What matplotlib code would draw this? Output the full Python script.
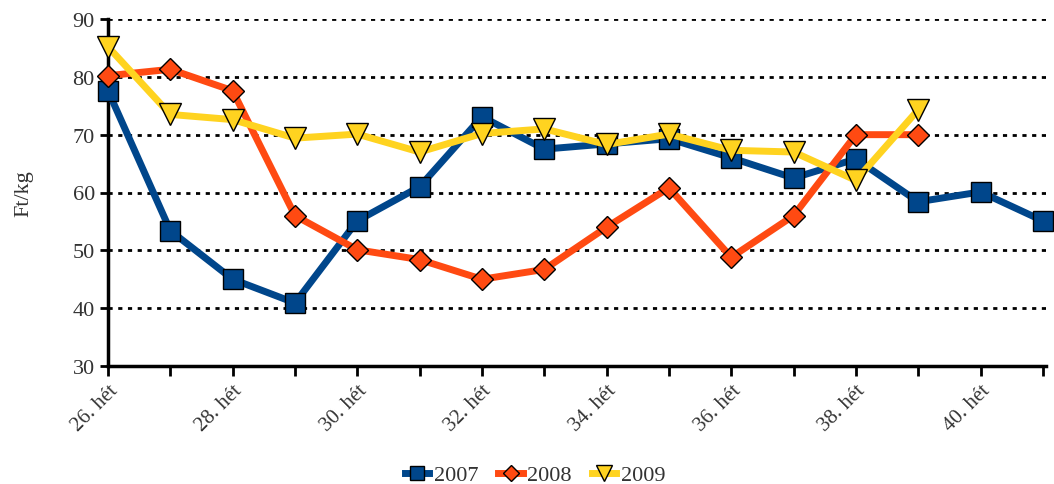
import numpy as np
import matplotlib.pyplot as plt

plt.rcParams['font.family'] = ['Liberation Serif', 'DejaVu Serif']

weeks = list(range(26, 42))
week_labels = [f"{w}. hét" if w % 2 == 0 else "" for w in weeks]

y2007 = [77.6, 53.4, 45.0, 40.9, 55.1, 61.0, 73.1, 67.5, 68.4, 69.3, 66.0, 62.5, 65.8, 58.4, 60.1, 55.1]
y2008 = [80.2, 81.3, 77.6, 56.0, 50.1, 48.4, 45.0, 46.7, 54.0, 60.8, 48.8, 56.0, 70.0, 70.0]
y2009 = [85.2, 73.5, 72.6, 69.4, 70.1, 67.0, 70.2, 71.0, 68.3, 70.1, 67.3, 67.0, 62.1, 74.3]

blue = '#00468b'
orange = '#ff4a12'
yellow = '#ffd320'
txt = '#333333'

fig = plt.figure(figsize=(10.54, 4.85), dpi=100)
ax = fig.add_axes([108 / 1054, 1 - 367 / 485, (1046 - 108) / 1054, (367 - 20) / 485])

x = np.arange(len(weeks))
ax.plot(x[:len(y2007)], y2007, color=blue, lw=5, marker='s', ms=14,
        mfc=blue, mec='black', mew=1, label='2007', zorder=3, clip_on=False)
ax.plot(x[:len(y2008)], y2008, color=orange, lw=5, marker='D', ms=11,
        mfc=orange, mec='black', mew=1, label='2008', zorder=4, clip_on=False)
ax.plot(x[:len(y2009)], y2009, color=yellow, lw=5, marker='v', ms=16,
        mfc=yellow, mec='black', mew=1, label='2009', zorder=5, clip_on=False)

ax.set_xlim(0, len(weeks) - 1 + 0.05)
ax.set_ylim(30, 90)
ax.set_yticks(range(30, 91, 10))
ax.set_xticks(x)
ax.set_xticklabels(week_labels, rotation=45, ha='right', rotation_mode='anchor', fontsize=15)
ax.tick_params(axis='y', labelsize=16, width=2, length=6, direction='out', labelcolor=txt)
ax.tick_params(axis='x', width=2, length=7, direction='out', labelcolor=txt)

for v in range(40, 91, 10):
    ax.axhline(v, color='black', lw=2, ls=(0, (1.5, 2)), zorder=1)

for s in ['top', 'right']:
    ax.spines[s].set_visible(False)
for s in ['left', 'bottom']:
    ax.spines[s].set_linewidth(2.5)
    ax.spines[s].set_zorder(2)

ax.set_ylabel('Ft/kg', fontsize=16, color=txt, labelpad=28)

leg = ax.legend(loc='center', ncol=3, frameon=False,
                fontsize=16, handlelength=1.1, columnspacing=0.9, handletextpad=0.2,
                labelcolor=txt, markerscale=0.7)
leg.set_bbox_to_anchor((535 / 1054, 9 / 485), transform=fig.transFigure)

fig.savefig('out.png', dpi=100)
